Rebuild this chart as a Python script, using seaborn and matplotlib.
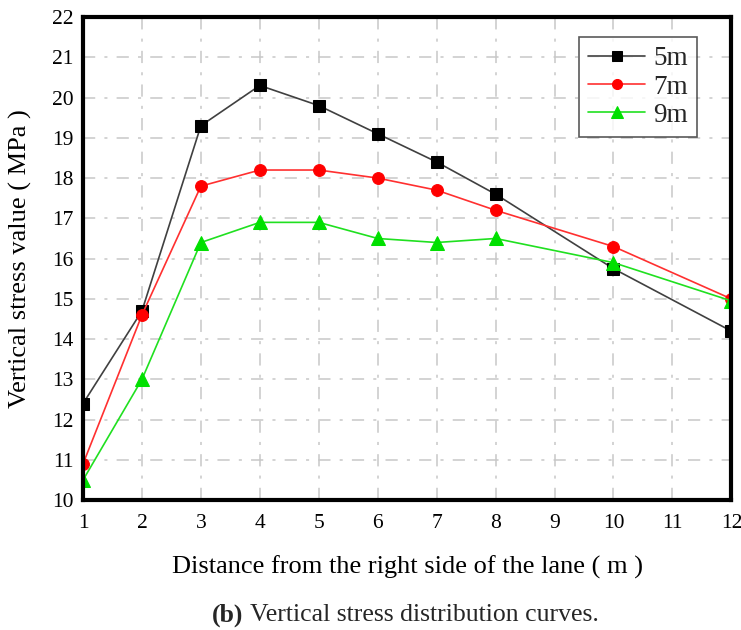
import matplotlib
matplotlib.use("Agg")
import matplotlib.pyplot as plt
import seaborn as sns
import pandas as pd

distance = [1, 2, 3, 4, 5, 6, 7, 8, 10, 12]
stress_5m = [12.4, 14.7, 19.3, 20.3, 19.8, 19.1, 18.4, 17.6, 15.75, 14.2]
stress_7m = [10.9, 14.6, 17.8, 18.2, 18.2, 18.0, 17.7, 17.2, 16.3, 15.0]
stress_9m = [10.5, 13.0, 16.4, 16.9, 16.9, 16.5, 16.4, 16.5, 15.9, 14.95]
series_names = ["5m", "7m", "9m"]
x_ticks = list(range(1, 13))
y_ticks = list(range(10, 23))

sns.set_theme(style="white")
plt.rcParams['font.family'] = ['Liberation Serif', 'DejaVu Serif']

df = pd.DataFrame({
    "x": distance * 3,
    "y": stress_5m + stress_7m + stress_9m,
    "s": [series_names[0]] * len(distance) + [series_names[1]] * len(distance) + [series_names[2]] * len(distance),
})

fig = plt.figure(figsize=(7.41, 6.30), dpi=100)
ax = fig.add_axes([0.112, 0.206, 0.875, 0.767])

colors = {"5m": "#000000", "7m": "#ff0000", "9m": "#00e000"}
line_colors = {"5m": "#404040", "7m": "#ff3030", "9m": "#20e020"}
markers = {"5m": "s", "7m": "o", "9m": "^"}
msize = {"5m": 8, "7m": 8.5, "9m": 9.5}

for name in series_names:
    sub = df[df["s"] == name]
    sns.lineplot(data=sub, x="x", y="y", ax=ax, color=line_colors[name], lw=1.2,
                 marker=markers[name], markersize=msize[name],
                 markerfacecolor=colors[name], markeredgecolor=colors[name],
                 label=name, clip_on=True)

ax.set_xlim(1, 12)
ax.set_ylim(10, 22)
ax.set_xticks(x_ticks)
ax.set_yticks(y_ticks)
ax.tick_params(direction="in", length=6, width=2.5, labelsize=15.5, labelcolor="black", color="black")
ax.tick_params(axis="x", pad=10)
ax.tick_params(axis="y", pad=7)
for sp in ax.spines.values():
    sp.set_linewidth(3)
    sp.set_color("black")
ax.grid(True, color="#c8c8c8", linestyle=(0, (8, 6, 2, 6)), linewidth=1.1)

ax.set_xlabel("Distance from the right side of the lane ( m )", fontsize=19, color="black")
ax.set_ylabel("Vertical stress value ( MPa )", fontsize=19, color="black")
ax.xaxis.set_label_coords(0.5, -0.139)
ax.xaxis.label.set_va("center")
ax.yaxis.set_label_coords(-0.097, 0.5)
ax.yaxis.label.set_va("center")

leg = ax.legend(loc="upper right", bbox_to_anchor=(0.9475, 0.959), borderaxespad=0,
                fontsize=19.5, frameon=True, fancybox=False, edgecolor="#303030",
                handlelength=2.1, borderpad=0.35, labelspacing=0.12, handletextpad=0.3,
                markerscale=0.85)
leg.get_frame().set_linewidth(1.2)

fig.text(0.286, 0.024, "(b)", fontsize=18.5, fontweight="bold", ha="left", va="center")
fig.text(0.329, 0.024, " Vertical stress distribution curves.", fontsize=18.5, ha="left", va="center")

fig.savefig("out.png", dpi=100, facecolor="white")
